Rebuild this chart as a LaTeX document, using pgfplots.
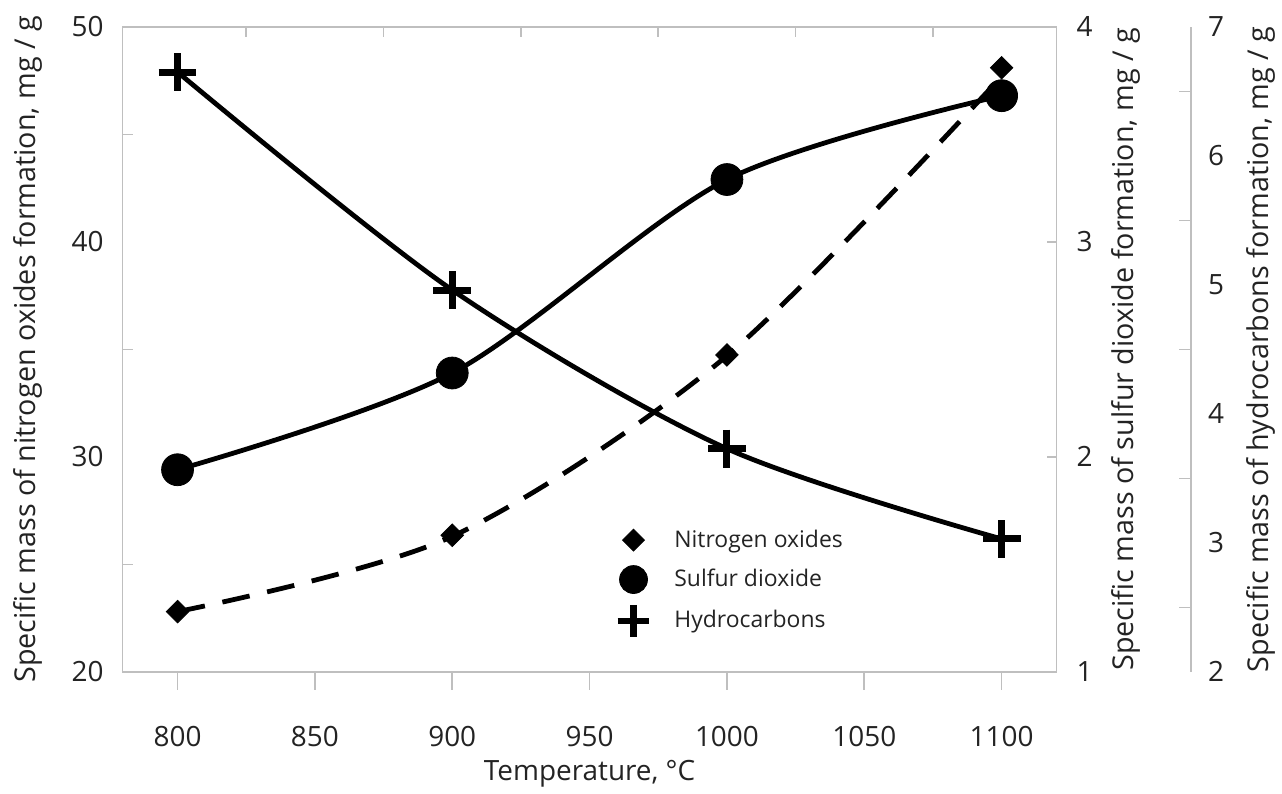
\documentclass[border=0pt]{standalone}
\usepackage{fontspec}
\setmainfont{Open Sans}
\usepackage{pgfplots}
\pgfplotsset{compat=1.18}
\usetikzlibrary{calc}

\definecolor{axgray}{RGB}{191,191,191}
\definecolor{txt}{RGB}{35,35,35}

\tikzset{mk/.style={line width=3.5pt, black}}
\pgfplotsset{
  base/.style={
    scale only axis, width=468.5pt, height=323.5pt,
    xmin=780, xmax=1120,
    axis line style={axgray, line width=0.8pt},
    tick style={axgray, line width=0.8pt},
    tick label style={font=\fontsize{14}{14}\selectfont, text=txt},
    label style={font=\fontsize{14.4}{14.4}\selectfont, text=txt},
    /pgf/number format/assume math mode=true,
    /pgf/number format/1000 sep={},
  },
  legimg/.style={legend image code/.code={%
    \path[draw=none, fill=none] (-9pt,0pt) (18.5pt,0pt);
    \draw[mark repeat=2, mark phase=2, ##1] plot coordinates {(-5pt,0pt) (0pt,0pt) (5pt,0pt)};}},
}

\begin{document}
\begin{tikzpicture}
% left axis: nitrogen oxides
\begin{axis}[base, name=main,
  ymin=20, ymax=50,
  xtick={800,850,...,1100}, xtick pos=bottom, xtick align=outside, major tick length=9pt,
  xticklabel style={yshift=-15pt},
  ytick={20,30,40,50}, ytick pos=left, ytick style={draw=none},
  yticklabel style={xshift=-6pt},
  xlabel={Temperature, °C},
  xlabel style={font=\fontsize{14}{14}\selectfont, at={(axis description cs:0.5,0)}, anchor=center, yshift=-51pt},
  ylabel={Specific mass of nitrogen oxides formation, mg / g},
  ylabel style={at={(axis description cs:0,0.5)}, anchor=center, yshift=47.5pt},
  legend style={draw=none, fill=none, at={(rel axis cs:0.521,0.233)}, anchor=north west,
    font=\fontsize{11.5}{11.5}\selectfont, text=txt, row sep=5.5pt},
  legend cell align=left,
]
\addplot[black, line width=2.4pt, dash pattern=on 14pt off 9pt, smooth, forget plot] table {
800 22.8
900 26.3
1000 34.7
1100 47.7
};
\addplot[only marks, mark=square*, mark size=4pt, mark options={rotate=45, fill=black, draw=black}, forget plot] table {
800 22.8
900 26.35
1000 34.74
1100 48.1
};
\addlegendimage{only marks, mark=square*, mark size=3.9pt, mark options={rotate=45, fill=black, draw=black}, legimg}
\addlegendentry{Nitrogen oxides}
\addlegendimage{only marks, mark=*, mark size=7pt, mark options={fill=black, draw=black}, legimg}
\addlegendentry{Sulfur dioxide}
\addlegendimage{only marks, mark=+, mark size=8pt, mark options={mk, line width=3.2pt}, legimg}
\addlegendentry{Hydrocarbons}
\end{axis}

% minor ticks: top edge and left edge
\begin{axis}[base,
  ymin=20, ymax=50, axis line style={draw=none},
  xtick={825,875,...,1075}, xtick pos=top, xticklabels={},
  ytick={25,35,45}, ytick pos=left, yticklabels={},
  tick align=inside, major tick length=5pt,
]
\end{axis}

% first right axis: sulfur dioxide
\begin{axis}[base,
  ymin=1, ymax=4,
  axis x line=none, axis y line*=right,
  ytick={1,2,3,4}, tick align=inside, major tick length=5pt,
  yticklabel style={xshift=6.5pt},
  ylabel={Specific mass of sulfur dioxide formation, mg / g},
  ylabel style={at={(axis description cs:1,0.5)}, anchor=center, yshift=-35pt},
]
\addplot[black, line width=2.4pt, smooth] table {
800 1.94
900 2.39
1000 3.29
1100 3.68
};
\addplot[only marks, mark=*, mark size=8pt, mark options={fill=black, draw=black}] table {
800 1.94
900 2.39
1000 3.29
1100 3.68
};
\end{axis}

% second right axis: hydrocarbons (same x scale, wider box)
\begin{axis}[base, width=536pt, xmax=1168.99,
  ymin=2, ymax=7,
  axis x line=none, axis y line*=right,
  ytick={2,...,7}, minor ytick={2.5,3.5,...,6.5},
  tick align=inside, major tick length=0pt, minor tick length=6pt,
  yticklabel style={xshift=5pt},
  ylabel={Specific mass of hydrocarbons formation, mg / g},
  ylabel style={at={(axis description cs:1,0.5)}, anchor=center, yshift=-35pt},
]
\addplot[black, line width=2.4pt, smooth] table {
800 6.65
900 4.96
1000 3.73
1100 3.03
};
\addplot[only marks, mark=+, mark size=9.5pt, mark options={mk}] table {
800 6.65
900 4.96
1000 3.73
1100 3.03
};
\end{axis}

\useasboundingbox ($(main.south west)+(-61.5pt,-60.5pt)$) rectangle ($(main.north east)+(111pt,13.5pt)$);
\end{tikzpicture}
\end{document}
